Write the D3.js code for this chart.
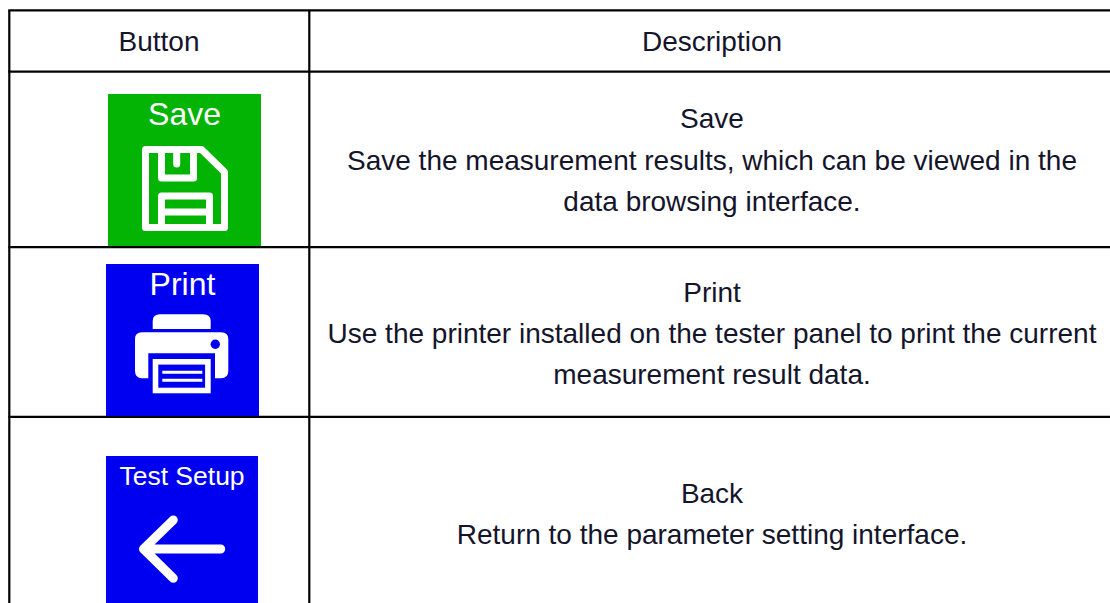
<!DOCTYPE html>
<html>
<head>
<meta charset="utf-8">
<script src="https://cdn.jsdelivr.net/npm/d3@7"></script>
<style>
  html, body { margin: 0; padding: 0; background: #fff; }
  svg { display: block; font-family: "Liberation Sans", Arial, sans-serif; }
</style>
</head>
<body>
<div id="chart"></div>
<script>
// Table content
const headers = ['Button', 'Description'];
const buttonLabels = ['Save', 'Print', 'Test Setup'];
const buttonColors = ['#04b404', '#0000f0', '#0000f0'];
const descriptions = [
  ['Save', 'Save the measurement results, which can be viewed in the', 'data browsing interface.'],
  ['Print', 'Use the printer installed on the tester panel to print the current', 'measurement result data.'],
  ['Back', 'Return to the parameter setting interface.']
];

// Layout
const width = 1110;
const height = 603;
const colX = [9.3, 309.3];
const rowY = [10.3, 71.7, 247.2, 416.8];
const iconBoxes = [
  {x: 108, y: 94, w: 153, h: 152},
  {x: 106, y: 264, w: 153, h: 152},
  {x: 106, y: 456, w: 152, h: 147}
];
const labelSizes = [32, 32, 26.5];
const labelBaselines = [31, 31, 29];
const textColor = '#14142b';
const descCenterX = 712;
const descBaselines = [[128, 170, 211], [302, 343, 384], [503, 544]];

const svg = d3.select('#chart').append('svg')
  .attr('width', width)
  .attr('height', height);

// Grid lines
const grid = svg.append('g').attr('class', 'grid');
grid.selectAll('.h-line')
  .data(rowY)
  .enter().append('line')
  .attr('class', 'h-line')
  .attr('x1', colX[0] - 1).attr('x2', width)
  .attr('y1', (d) => d).attr('y2', (d) => d)
  .style('stroke', '#000').style('stroke-width', 2.2);
grid.selectAll('.v-line')
  .data(colX)
  .enter().append('line')
  .attr('class', 'v-line')
  .attr('x1', (d) => d).attr('x2', (d) => d)
  .attr('y1', rowY[0]).attr('y2', height)
  .style('stroke', '#000').style('stroke-width', 2.2);

// Header row
svg.selectAll('.header')
  .data(headers)
  .enter().append('text')
  .attr('class', 'header')
  .attr('x', (d, i) => (i === 0 ? 159 : descCenterX))
  .attr('y', 51)
  .attr('text-anchor', 'middle')
  .style('font-size', '28px')
  .style('fill', textColor)
  .text((d) => d);

// Description cells
const cells = svg.selectAll('.desc')
  .data(descriptions)
  .enter().append('g')
  .attr('class', 'desc');
cells.selectAll('text')
  .data((lines, i) => lines.map((t, j) => ({t: t, y: descBaselines[i][j]})))
  .enter().append('text')
  .attr('x', descCenterX)
  .attr('y', (d) => d.y)
  .attr('text-anchor', 'middle')
  .style('font-size', '28px')
  .style('fill', textColor)
  .text((d) => d.t);

// Buttons
const buttons = svg.selectAll('.button')
  .data(iconBoxes)
  .enter().append('g')
  .attr('class', 'button')
  .attr('transform', (d) => 'translate(' + d.x + ',' + d.y + ')');
buttons.append('rect')
  .attr('width', (d) => d.w)
  .attr('height', (d) => d.h)
  .style('fill', (d, i) => buttonColors[i]);
buttons.append('text')
  .attr('x', (d) => d.w / 2)
  .attr('y', (d, i) => labelBaselines[i])
  .attr('text-anchor', 'middle')
  .style('font-size', (d, i) => labelSizes[i] + 'px')
  .style('fill', '#fff')
  .text((d, i) => buttonLabels[i]);

// Floppy icon
const save = d3.select(buttons.nodes()[0]);
save.append('path')
  .attr('d', 'M37.5 55.5 H93.5 L116.5 78 V133.5 H37.5 Z')
  .style('fill', 'none').style('stroke', '#fff').style('stroke-width', 7).style('stroke-linejoin', 'round');
save.append('path')
  .attr('d', 'M53.5 55.5 V84 H85.5 V55.5 M53.5 133.5 V102 H101.5 V133.5 M53.5 118 H101.5')
  .style('fill', 'none').style('stroke', '#fff').style('stroke-width', 7).style('stroke-linejoin', 'round');
save.append('path')
  .attr('d', 'M68.7 55.5 V70')
  .style('fill', 'none').style('stroke', '#fff').style('stroke-width', 7).style('stroke-linecap', 'round');

// Printer icon
const print = d3.select(buttons.nodes()[1]);
print.append('path')
  .attr('d', 'M46.7 65 V57 Q46.7 50.3 54 50.3 H97 Q104.7 50.3 104.7 57 V65 Z')
  .style('fill', '#fff');
print.append('path')
  .attr('d', 'M36 68.3 H115 Q122.3 68.3 122.3 75 V107 Q122.3 114.3 115 114.3 H109 V89.3 H42.3 V114.3 H36 Q29 114.3 29 107 V75 Q29 68.3 36 68.3 Z')
  .style('fill', '#fff');
print.append('circle')
  .attr('cx', 109.3).attr('cy', 80.3).attr('r', 4.7)
  .style('fill', buttonColors[1]);
print.append('rect')
  .attr('x', 49.5).attr('y', 97.8).attr('width', 52.4).attr('height', 28.7)
  .style('fill', buttonColors[1]).style('stroke', '#fff').style('stroke-width', 5.6);
print.append('path')
  .attr('d', 'M56.3 108.3 H96.3 M56.3 116.3 H96.3')
  .style('fill', 'none').style('stroke', '#fff').style('stroke-width', 3);

// Back arrow
const back = d3.select(buttons.nodes()[2]);
back.append('path')
  .attr('d', 'M37.5 93 H114.7 M67.3 64 L37.5 93 L67.3 122.3')
  .style('fill', 'none').style('stroke', '#fff').style('stroke-width', 9)
  .style('stroke-linecap', 'round').style('stroke-linejoin', 'round');
</script>
</body>
</html>
